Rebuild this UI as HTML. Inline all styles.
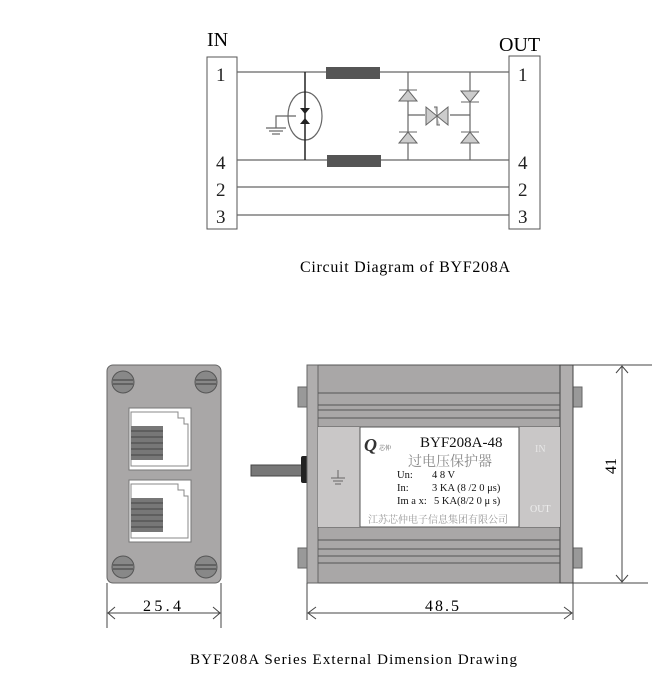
<!DOCTYPE html>
<html><head><meta charset="utf-8"><style>
html,body{margin:0;padding:0;background:#fff;}
svg{display:block;}
text{font-family:"Liberation Serif","Noto Serif CJK SC",serif;}
</style></head><body>
<svg width="670" height="685" viewBox="0 0 670 685" xmlns="http://www.w3.org/2000/svg">
<!-- Circuit -->
<text x="207" y="46" font-size="20">IN</text>
<text x="499" y="51" font-size="20">OUT</text>
<rect x="207" y="57" width="30" height="172" fill="#fff" stroke="#555" stroke-width="1"/>
<rect x="509" y="56" width="31" height="173" fill="#fff" stroke="#555" stroke-width="1"/>
<g font-size="19" fill="#222">
<text x="216" y="81">1</text><text x="216" y="169">4</text><text x="216" y="196">2</text><text x="216" y="223">3</text>
<text x="518" y="81">1</text><text x="518" y="169">4</text><text x="518" y="196">2</text><text x="518" y="223">3</text>
</g>
<g stroke="#666" stroke-width="1.2" fill="none">
<line x1="237" y1="72" x2="509" y2="72"/>
<line x1="237" y1="160" x2="509" y2="160"/>
<line x1="237" y1="187" x2="509" y2="187"/>
<line x1="237" y1="215" x2="509" y2="215"/>
<line x1="408" y1="72" x2="408" y2="160"/>
<line x1="470" y1="72" x2="470" y2="160"/>
<line x1="408" y1="115" x2="425" y2="115"/>
<line x1="450" y1="115" x2="470" y2="115"/>
<ellipse cx="305" cy="116" rx="17" ry="24"/>
<polyline points="296,116 276,116 276,128"/>
<line x1="266" y1="128" x2="286" y2="128"/>
<line x1="269" y1="131" x2="283" y2="131"/>
<line x1="272" y1="134" x2="280" y2="134"/>
</g>
<line x1="305" y1="72" x2="305" y2="160" stroke="#222" stroke-width="1.5"/>
<path d="M300,108 L310,108 L305,114Z M300,124 L310,124 L305,118Z" fill="#222"/>
<rect x="326" y="67" width="54" height="12" fill="#555"/>
<rect x="327" y="155" width="54" height="12" fill="#555"/>
<g fill="#ccc" stroke="#666" stroke-width="1">
<path d="M399,101 L417,101 L408,90Z"/><line x1="399" y1="90" x2="417" y2="90"/>
<path d="M399,143 L417,143 L408,132Z"/><line x1="399" y1="132" x2="417" y2="132"/>
<path d="M461,91 L479,91 L470,102Z"/><line x1="461" y1="102" x2="479" y2="102"/>
<path d="M461,143 L479,143 L470,132Z"/><line x1="461" y1="132" x2="479" y2="132"/>
<path d="M426,107 L426,125 L437,116Z M448,107 L448,125 L437,116Z"/>
<polyline points="434,107 437,107 437,125 440,125"/>
</g>
<text x="300" y="272" font-size="16" textLength="210" lengthAdjust="spacing">Circuit Diagram of BYF208A</text>

<!-- Left panel -->
<rect x="107" y="365" width="114" height="218" rx="6" fill="#a9a7a7" stroke="#666"/>
<g fill="#888" stroke="#555">
<circle cx="123" cy="382" r="11"/><circle cx="206" cy="382" r="11"/>
<circle cx="123" cy="567" r="11"/><circle cx="206" cy="567" r="11"/>
</g>
<g stroke="#555" stroke-width="1.5">
<line x1="113" y1="380" x2="133" y2="380"/><line x1="113" y1="384" x2="133" y2="384"/>
<line x1="196" y1="380" x2="216" y2="380"/><line x1="196" y1="384" x2="216" y2="384"/>
<line x1="113" y1="565" x2="133" y2="565"/><line x1="113" y1="569" x2="133" y2="569"/>
<line x1="196" y1="565" x2="216" y2="565"/><line x1="196" y1="569" x2="216" y2="569"/>
</g>
<g>
<rect x="129" y="408" width="62" height="62" fill="#fff" stroke="#777"/>
<path d="M131,412 H178 V418 H184 V424 H188 V466 H131Z" fill="none" stroke="#888"/>
<rect x="131" y="426" width="32" height="34" fill="#777"/>
<g stroke="#444"><line x1="131" y1="431" x2="163" y2="431"/><line x1="131" y1="437" x2="163" y2="437"/><line x1="131" y1="443" x2="163" y2="443"/><line x1="131" y1="449" x2="163" y2="449"/><line x1="131" y1="455" x2="163" y2="455"/></g>
<rect x="129" y="480" width="62" height="62" fill="#fff" stroke="#777"/>
<path d="M131,484 H178 V490 H184 V496 H188 V538 H131Z" fill="none" stroke="#888"/>
<rect x="131" y="498" width="32" height="34" fill="#777"/>
<g stroke="#444"><line x1="131" y1="503" x2="163" y2="503"/><line x1="131" y1="509" x2="163" y2="509"/><line x1="131" y1="515" x2="163" y2="515"/><line x1="131" y1="521" x2="163" y2="521"/><line x1="131" y1="527" x2="163" y2="527"/></g>
</g>
<!-- 25.4 dim -->
<g stroke="#444" stroke-width="1" fill="none">
<line x1="107" y1="583" x2="107" y2="628"/><line x1="221" y1="583" x2="221" y2="628"/>
<line x1="107" y1="613" x2="221" y2="613"/>
<polyline points="115,607 108,613 115,619"/><polyline points="213,607 220,613 213,619"/>
</g>
<text x="143" y="611" font-size="16" textLength="38" lengthAdjust="spacing">25.4</text>

<!-- Device -->
<rect x="251" y="465" width="53" height="11" fill="#777" stroke="#444"/>
<rect x="301" y="456" width="8" height="27" rx="2" fill="#222"/>
<g fill="#999" stroke="#666">
<rect x="298" y="387" width="9" height="20"/><rect x="298" y="548" width="9" height="20"/>
<rect x="573" y="387" width="9" height="20"/><rect x="573" y="548" width="9" height="20"/>
</g>
<rect x="307" y="365" width="266" height="218" fill="#a9a7a7" stroke="#555"/>
<rect x="307" y="365" width="11" height="218" fill="#b0aeae" stroke="#666"/>
<rect x="560" y="365" width="13" height="218" fill="#b0aeae" stroke="#444"/>
<g stroke="#555" stroke-width="1">
<line x1="318" y1="393" x2="560" y2="393"/><line x1="318" y1="405" x2="560" y2="405"/><line x1="318" y1="410" x2="560" y2="410"/><line x1="318" y1="418" x2="560" y2="418"/><line x1="318" y1="427" x2="560" y2="427"/>
<line x1="318" y1="527" x2="560" y2="527"/><line x1="318" y1="540" x2="560" y2="540"/><line x1="318" y1="549" x2="560" y2="549"/><line x1="318" y1="556" x2="560" y2="556"/><line x1="318" y1="563" x2="560" y2="563"/>
</g>
<rect x="318" y="427" width="42" height="100" fill="#c9c7c7"/>
<rect x="519" y="427" width="41" height="100" fill="#c9c7c7"/>
<rect x="360" y="427" width="159" height="100" fill="#fff" stroke="#555"/>
<g stroke="#666"><line x1="338" y1="470" x2="338" y2="478"/><line x1="331" y1="478" x2="345" y2="478"/><line x1="333" y1="481" x2="343" y2="481"/><line x1="335" y1="484" x2="341" y2="484"/></g>
<text x="535" y="452" font-size="10" fill="#e6e6e6">IN</text>
<text x="530" y="512" font-size="10" fill="#eee">OUT</text>
<text x="364" y="451" font-size="18" font-weight="bold" fill="#333" font-style="italic">Q</text>
<text x="379" y="450" font-size="6" fill="#555">芯仲</text>
<text x="420" y="447" font-size="15" fill="#111">BYF208A-48</text>
<text x="408" y="466" font-size="14" fill="#888">过电压保护器</text>
<g font-size="10.5" fill="#111">
<text x="397" y="478">Un:</text><text x="432" y="478">4 8 V</text>
<text x="397" y="491">In:</text><text x="432" y="491">3 KA (8 /2 0 μs)</text>
<text x="397" y="504">Im a x:</text><text x="434" y="504">5 KA(8/2 0 μ s)</text>
</g>
<text x="368" y="523" font-size="10" fill="#999">江苏芯仲电子信息集团有限公司</text>
<!-- 41 dim -->
<g stroke="#444" stroke-width="1" fill="none">
<line x1="573" y1="365" x2="652" y2="365"/><line x1="573" y1="583" x2="648" y2="583"/>
<line x1="622" y1="366" x2="622" y2="582"/>
<polyline points="616,373 622,366 628,373"/><polyline points="616,575 622,582 628,575"/>
<line x1="307" y1="583" x2="307" y2="620"/><line x1="573" y1="583" x2="573" y2="620"/>
<line x1="308" y1="613" x2="572" y2="613"/>
<polyline points="316,607 308,613 316,619"/><polyline points="564,607 572,613 564,619"/>
</g>
<text x="0" y="0" font-size="16" transform="translate(616,474) rotate(-90)">41</text>
<text x="425" y="611" font-size="16" textLength="34" lengthAdjust="spacing">48.5</text>
<text x="190" y="664" font-size="15" textLength="327" lengthAdjust="spacing">BYF208A  Series External Dimension Drawing</text>
</svg>
</body></html>
